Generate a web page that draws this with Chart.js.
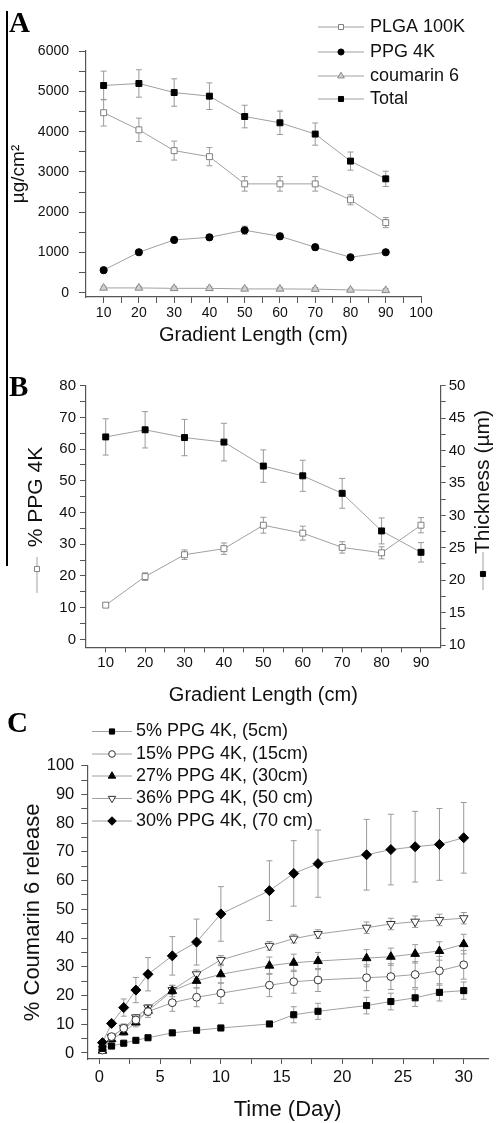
<!DOCTYPE html>
<html>
<head>
<meta charset="utf-8">
<script src="https://cdn.jsdelivr.net/npm/chart.js@4.4.0/dist/chart.umd.min.js"></script>
<style>
body { margin:0; background:#fff; width:496px; height:1123px; position:relative; overflow:hidden; font-family:"Liberation Sans", Arial, sans-serif; }
.panel { position:absolute; left:0; width:496px; }
.letter { position:absolute; font-family:"Liberation Serif", "Times New Roman", serif; font-weight:bold; font-size:29px; line-height:1; color:#000; }
#rule { position:absolute; left:6px; top:11px; width:2px; height:555px; background:#000; }
</style>
</head>
<body>
<div id="rule"></div>
<div class="panel" style="top:0;height:370px"><canvas id="chartA"></canvas></div>
<div class="panel" style="top:370px;height:340px"><canvas id="chartB"></canvas></div>
<div class="panel" style="top:710px;height:413px"><canvas id="chartC"></canvas></div>
<div class="letter" style="left:9px;top:8px">A</div>
<div class="letter" style="left:9px;top:372px">B</div>
<div class="letter" style="left:7px;top:708px">C</div>
<script>
// ---- panel A: amounts along the gradient
var lengthA = [10, 20, 30, 40, 50, 60, 70, 80, 90];
var plga = [4470, 4045, 3530, 3380, 2705, 2705, 2705, 2310, 1745];
var plgaErr = [330, 290, 235, 225, 180, 180, 180, 125, 125];
var ppg = [565, 1010, 1315, 1380, 1555, 1405, 1135, 885, 1010];
var ppgErr = [50, 60, 70, 70, 100, 80, 70, 50, 50];
var coumarin = [125, 125, 115, 115, 100, 100, 95, 75, 65];
var coumarinErr = [40, 40, 40, 40, 40, 40, 40, 40, 40];
var total = [5145, 5195, 4970, 4880, 4375, 4220, 3940, 3270, 2830];
var totalErr = [355, 340, 340, 330, 280, 290, 275, 225, 190];
var aXTicks = [10, 20, 30, 40, 50, 60, 70, 80, 90, 100];
var aYTicks = [0, 1000, 2000, 3000, 4000, 5000, 6000];

// ---- panel B: % PPG and thickness
var lengthB = [10, 20, 30, 40, 50, 60, 70, 80, 90];
var ppgPct = [10.8, 19.8, 26.7, 28.6, 36.0, 33.5, 29.0, 27.3, 36.0];
var ppgPctErr = [0.7, 1.2, 1.5, 1.8, 2.5, 2.2, 1.8, 1.9, 2.4];
var thickness = [42.1, 43.2, 42.0, 41.3, 37.6, 36.1, 33.4, 27.6, 24.3];
var thicknessErr = [2.8, 2.8, 2.8, 2.9, 2.5, 2.4, 2.3, 2.0, 1.5];
var bXTicks = [10, 20, 30, 40, 50, 60, 70, 80, 90];
var bYTicks = [0, 10, 20, 30, 40, 50, 60, 70, 80];
var bY1Ticks = [10, 15, 20, 25, 30, 35, 40, 45, 50];

// ---- panel C: coumarin 6 release
var days = [0.25, 1, 2, 3, 4, 6, 8, 10, 14, 16, 18, 22, 24, 26, 28, 30];
var rel5 = [1.6, 2.4, 3.4, 4.4, 5.3, 7.0, 7.9, 8.7, 10.1, 13.3, 14.5, 16.5, 17.9, 19.2, 21.1, 21.7];
var rel5Err = [0.3, 0.5, 0.5, 0.5, 0.5, 0.6, 0.7, 0.8, 0.8, 2.8, 2.8, 2.9, 2.9, 3.0, 3.0, 3.0];
var rel15 = [1.0, 5.7, 8.6, 11.5, 14.4, 17.5, 19.4, 20.8, 23.6, 24.8, 25.4, 26.2, 26.6, 27.3, 28.6, 30.7];
var rel15Err = [0.5, 1, 1.5, 1.5, 2, 3, 3.3, 3.5, 4, 4, 4, 4.5, 4.5, 4.5, 5, 5];
var rel27 = [0.8, 4.8, 7.2, 10.6, 14.7, 21.6, 25.1, 27.4, 30.4, 31.4, 32.0, 33.0, 33.5, 34.5, 35.5, 37.9];
var rel27Err = [0.5, 1, 1, 1.5, 1.5, 2, 2.5, 3, 3, 3, 3, 3, 3, 3.2, 3.2, 3.4];
var rel36 = [1.5, 5.5, 8.8, 12.4, 15.8, 21.9, 27.4, 32.4, 37.3, 39.8, 41.4, 43.6, 44.9, 45.7, 46.3, 46.9];
var rel36Err = [0.5, 1, 1, 1, 1, 1.5, 1.5, 1.5, 1.5, 1.5, 1.5, 2, 2, 2, 2, 2];
var rel30 = [3.6, 10.3, 15.8, 21.9, 27.4, 33.8, 38.6, 48.4, 56.5, 62.5, 65.9, 69.0, 70.8, 71.8, 72.6, 74.9];
var rel30Err = [0.5, 1, 3, 4.4, 5.8, 6.7, 8, 9.5, 10.4, 11.4, 11.7, 12.3, 12.3, 12.3, 12.5, 12.3];
var cXTicks = [0, 5, 10, 15, 20, 25, 30];
var cYTicks = [0, 10, 20, 30, 40, 50, 60, 70, 80, 90, 100];

var FONT = '"Liberation Sans", Arial, sans-serif';
Chart.defaults.font.family = FONT;
Chart.defaults.color = '#111';
Chart.defaults.animation = false;

function pts(xs, ys) {
    return xs.map(function (x, i) { return {x: x, y: ys[i]}; });
}

// majors plus half-step minors, labels only on majors
function tickScale(opts) {
    var majors = opts.majors;
    var all = [];
    majors.forEach(function (v, i) {
        all.push(v);
        if (i < majors.length - 1) all.push((v + majors[i + 1]) / 2);
    });
    return {
        type: 'linear',
        position: opts.position,
        min: opts.min, max: opts.max,
        afterBuildTicks: function (s) { s.ticks = all.map(function (v) { return {value: v}; }); },
        afterFit: function (s) { if (opts.width) s.width = opts.width; if (opts.height) s.height = opts.height; },
        ticks: {
            autoSkip: false, maxRotation: 0, padding: opts.pad, color: '#111',
            font: {size: opts.fontSize},
            callback: function (v) { return majors.indexOf(v) >= 0 ? String(v) : ''; }
        },
        grid: {display: true, drawOnChartArea: false, drawTicks: true, tickLength: opts.tl, color: '#555', tickWidth: 1},
        border: {display: true, color: '#555', width: 1.2},
        title: opts.title ? {display: true, text: opts.title, font: {size: opts.titleSize}, color: '#111', padding: opts.titlePad} : {display: false}
    };
}

function series(label, xs, ys, errs, style) {
    return Object.assign({
        label: label,
        data: pts(xs, ys),
        errors: errs,
        borderColor: '#a0a0a0',
        borderWidth: 1,
        pointBorderWidth: 1,
        pointHoverRadius: 0,
        tension: 0
    }, style);
}

var errorBars = {
    id: 'errorBars',
    beforeDatasetsDraw: function (chart) {
        var ctx = chart.ctx;
        chart.data.datasets.forEach(function (ds, i) {
            if (!ds.errors) return;
            var meta = chart.getDatasetMeta(i);
            ctx.save();
            ctx.strokeStyle = '#9a9a9a';
            ctx.lineWidth = 1;
            ds.data.forEach(function (p, j) {
                var e = ds.errors[j];
                if (!e) return;
                var x = meta.xScale.getPixelForValue(p.x);
                var yt = meta.yScale.getPixelForValue(p.y + e);
                var yb = meta.yScale.getPixelForValue(p.y - e);
                ctx.beginPath();
                ctx.moveTo(x, yt); ctx.lineTo(x, yb);
                ctx.moveTo(x - 3, yt); ctx.lineTo(x + 3, yt);
                ctx.moveTo(x - 3, yb); ctx.lineTo(x + 3, yb);
                ctx.stroke();
            });
            ctx.restore();
        });
    }
};

function marker(ctx, ds, x, y, r) {
    ctx.fillStyle = ds.pointBackgroundColor;
    ctx.strokeStyle = ds.pointBorderColor;
    ctx.lineWidth = 1;
    Chart.helpers.drawPoint(ctx, {pointStyle: ds.pointStyle, radius: r || ds.pointRadius, rotation: ds.pointRotation || 0, borderWidth: 1}, x, y);
}

// legend rows: line sample with marker in the middle, then text
function lineLegend(rows, x0, x1, xText, size) {
    return {
        id: 'lineLegend',
        afterDraw: function (chart) {
            var ctx = chart.ctx;
            ctx.save();
            ctx.font = size + 'px ' + FONT;
            ctx.textBaseline = 'middle';
            rows.forEach(function (r) {
                var ds = chart.data.datasets[r.index];
                ctx.strokeStyle = '#a0a0a0';
                ctx.lineWidth = 1;
                ctx.beginPath(); ctx.moveTo(x0, r.y); ctx.lineTo(x1, r.y); ctx.stroke();
                marker(ctx, ds, (x0 + x1) / 2, r.y, ds.pointRadius * 0.85);
                ctx.fillStyle = '#111';
                ctx.fillText(ds.label, xText, r.y);
            });
            ctx.restore();
        }
    };
}

var openGrey = {pointStyle: 'rect', pointRadius: 4.2, pointBackgroundColor: '#fff', pointBorderColor: '#808080'};
var blackSq = {pointStyle: 'rect', pointRadius: 4.2, pointBackgroundColor: '#000', pointBorderColor: '#000'};

// ---------------- A
new Chart(document.getElementById('chartA'), {
    type: 'line',
    data: {
        datasets: [
            series('PLGA 100K', lengthA, plga, plgaErr, openGrey),
            series('PPG 4K', lengthA, ppg, ppgErr, {pointStyle: 'circle', pointRadius: 3.6, pointBackgroundColor: '#000', pointBorderColor: '#000'}),
            series('coumarin 6', lengthA, coumarin, coumarinErr, {pointStyle: 'triangle', pointRadius: 4.5, pointBackgroundColor: '#d0d0d0', pointBorderColor: '#8a8a8a'}),
            series('Total', lengthA, total, totalErr, blackSq)
        ]
    },
    options: {
        responsive: true, maintainAspectRatio: false,
        layout: {padding: {top: 51, right: 75, left: 0, bottom: 0}},
        plugins: {legend: {display: false}, tooltip: {enabled: false}},
        scales: {
            x: tickScale({position: 'bottom', majors: aXTicks, min: 5, max: 100, height: 73, tl: 6, pad: 2, fontSize: 14,
                title: 'Gradient Length (cm)', titleSize: 20, titlePad: {top: 0, bottom: 23}}),
            y: tickScale({position: 'left', majors: aYTicks, min: -100, max: 6000, width: 86, tl: 7, pad: 10, fontSize: 14,
                title: 'µg/cm²', titleSize: 19, titlePad: {top: 7, bottom: 0}})
        }
    },
    plugins: [errorBars, lineLegend([{index: 0, y: 27}, {index: 1, y: 52}, {index: 2, y: 76}, {index: 3, y: 99}], 318, 364, 370, 18)]
});

// ---------------- B
var bTitles = {
    id: 'bTitles',
    afterDraw: function (chart) {
        var ctx = chart.ctx;
        var ds = chart.data.datasets;
        ctx.save();
        ctx.font = '21px ' + FONT;
        ctx.fillStyle = '#111';
        ctx.textAlign = 'center';
        ctx.textBaseline = 'middle';
        ctx.translate(36, 127); ctx.rotate(-Math.PI / 2); ctx.fillText('% PPG 4K', 0, 0);
        ctx.setTransform(1, 0, 0, 1, 0, 0);
        ctx.translate(483, 112); ctx.rotate(-Math.PI / 2); ctx.fillText('Thickness (µm)', 0, 0);
        ctx.setTransform(1, 0, 0, 1, 0, 0);
        ctx.strokeStyle = '#a0a0a0'; ctx.lineWidth = 1;
        ctx.beginPath(); ctx.moveTo(37, 187); ctx.lineTo(37, 223); ctx.moveTo(483, 182); ctx.lineTo(483, 220); ctx.stroke();
        marker(ctx, ds[0], 37, 199, 3.6);
        marker(ctx, ds[1], 483, 204, 3.6);
        ctx.restore();
    }
};

new Chart(document.getElementById('chartB'), {
    type: 'line',
    data: {
        datasets: [
            series('% PPG 4K', lengthB, ppgPct, ppgPctErr, Object.assign({yAxisID: 'y'}, openGrey)),
            series('Thickness (µm)', lengthB, thickness, thicknessErr, Object.assign({yAxisID: 'y1'}, blackSq))
        ]
    },
    options: {
        responsive: true, maintainAspectRatio: false,
        layout: {padding: {top: 15.7, right: 0, left: 0, bottom: 0}},
        plugins: {legend: {display: false}, tooltip: {enabled: false}},
        scales: {
            x: tickScale({position: 'bottom', majors: bXTicks, min: 5, max: 95, height: 62.7, tl: 5, pad: 2, fontSize: 15,
                title: 'Gradient Length (cm)', titleSize: 20, titlePad: {top: 0, bottom: 3}}),
            y: tickScale({position: 'left', majors: bYTicks, min: -2.5, max: 80, width: 86, tl: 6, pad: 4, fontSize: 15}),
            y1: tickScale({position: 'right', majors: bY1Ticks, min: 9.65, max: 50, width: 55.3, tl: 5, pad: 3, fontSize: 15})
        }
    },
    plugins: [errorBars, bTitles]
});

// ---------------- C
new Chart(document.getElementById('chartC'), {
    type: 'line',
    data: {
        datasets: [
            series('5% PPG 4K, (5cm)', days, rel5, rel5Err, {pointStyle: 'rect', pointRadius: 4.3, pointBackgroundColor: '#000', pointBorderColor: '#000'}),
            series('15% PPG 4K, (15cm)', days, rel15, rel15Err, {pointStyle: 'circle', pointRadius: 3.9, pointBackgroundColor: '#fff', pointBorderColor: '#333'}),
            series('27% PPG 4K, (30cm)', days, rel27, rel27Err, {pointStyle: 'triangle', pointRadius: 5, pointBackgroundColor: '#000', pointBorderColor: '#000'}),
            series('36% PPG 4K, (50 cm)', days, rel36, rel36Err, {pointStyle: 'triangle', pointRotation: 180, pointRadius: 5, pointBackgroundColor: '#fff', pointBorderColor: '#333'}),
            series('30% PPG 4K, (70 cm)', days, rel30, rel30Err, {pointStyle: 'rectRot', pointRadius: 5, pointBackgroundColor: '#000', pointBorderColor: '#000'})
        ]
    },
    options: {
        responsive: true, maintainAspectRatio: false,
        layout: {padding: {top: 55.7, right: 8, left: 0, bottom: 0}},
        plugins: {legend: {display: false}, tooltip: {enabled: false}},
        scales: {
            x: tickScale({position: 'bottom', majors: cXTicks, min: -1, max: 32, height: 64, tl: 5, pad: 4, fontSize: 16.5,
                title: 'Time (Day)', titleSize: 22, titlePad: {top: 0, bottom: 0}}),
            y: tickScale({position: 'left', majors: cYTicks, min: -2.1, max: 100, width: 87.3, tl: 6, pad: 7, fontSize: 16.5,
                title: '% Coumarin 6 release', titleSize: 22, titlePad: {top: 20, bottom: 0}})
        }
    },
    plugins: [errorBars, lineLegend([{index: 0, y: 21.5}, {index: 1, y: 44}, {index: 2, y: 66}, {index: 3, y: 88.5}, {index: 4, y: 111}], 92, 132, 136, 18)]
});
</script>
</body>
</html>
